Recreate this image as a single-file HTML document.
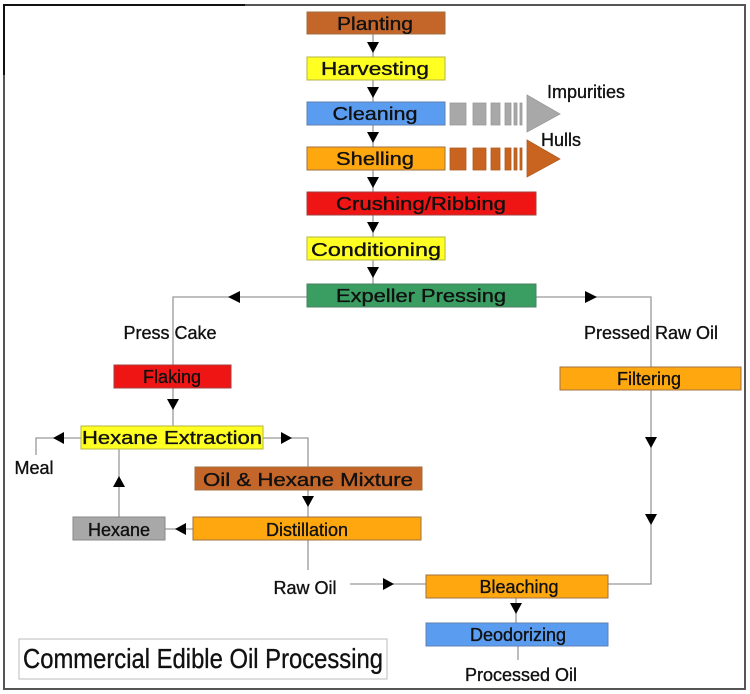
<!DOCTYPE html>
<html><head><meta charset="utf-8"><style>
html,body{margin:0;padding:0;background:#fff;}
svg{display:block;}
text{font-family:"Liberation Sans",sans-serif;fill:#111;}
.l text{stroke:#111;stroke-width:0.35;}
</style></head><body>
<svg width="750" height="694" viewBox="0 0 750 694" xmlns="http://www.w3.org/2000/svg">
<!-- frame -->
<path d="M4 5 H745 V689 H4 Z" fill="none" stroke="#555" stroke-width="2"/>
<path d="M4 75 V5 H245" fill="none" stroke="#111" stroke-width="2"/>

<g stroke="#999" stroke-width="1.3" fill="none">
<line x1="373" y1="34" x2="373" y2="284"/>
<path d="M307 297 H173 V365"/>
<path d="M536 297 H651 V367"/>
<path d="M173 388 V426"/>
<path d="M81 438 H36 V455"/>
<path d="M263 438 H308 V517"/>
<path d="M119 517 V449"/>
<path d="M193 529 H165"/>
<path d="M308 540 V570"/>
<path d="M350 584 H426"/>
<path d="M651 390 V584 H608"/>
<path d="M516 598 V623"/>
<path d="M518 646 V660"/>
</g>

<g fill="#000">
<polygon points="367,42 379,42 373,53"/>
<polygon points="367,87 379,87 373,98"/>
<polygon points="367,132 379,132 373,143"/>
<polygon points="367,177 379,177 373,188"/>
<polygon points="367,222 379,222 373,233"/>
<polygon points="367,267 379,267 373,278"/>
<polygon points="240,291 240,303 228,297"/>
<polygon points="585,291 585,303 597,297"/>
<polygon points="167,399 179,399 173,410"/>
<polygon points="64,432 64,444 53,438"/>
<polygon points="281,432 281,444 292,438"/>
<polygon points="302,496 314,496 308,507"/>
<polygon points="113,487 125,487 119,476"/>
<polygon points="186,523 186,535 175,529"/>
<polygon points="383,578 383,590 394,584"/>
<polygon points="645,437 657,437 651,448"/>
<polygon points="645,514 657,514 651,525"/>
<polygon points="510,603 522,603 516,614"/>
</g>

<g fill="#a8a8a8" stroke="#999" stroke-width="0.8">
<rect x="450" y="103" width="16" height="22"/>
<rect x="473" y="103" width="13" height="22"/>
<rect x="491" y="103" width="9" height="22"/>
<rect x="505" y="103" width="6" height="22"/>
<rect x="514" y="103" width="3" height="22"/>
<rect x="520" y="103" width="2" height="22"/>
<polygon points="527,95 560,114 527,132"/>
</g>
<g fill="#c8641f" stroke="#b05a20" stroke-width="0.8">
<rect x="450" y="148" width="16" height="22"/>
<rect x="473" y="148" width="13" height="22"/>
<rect x="491" y="148" width="9" height="22"/>
<rect x="505" y="148" width="6" height="22"/>
<rect x="514" y="148" width="3" height="22"/>
<rect x="520" y="148" width="2" height="22"/>
<polygon points="527,140 560,159 527,177"/>
</g>

<g stroke="#a07040" stroke-width="1">
<rect x="307" y="12" width="138" height="22" fill="#c4652a"/>
<rect x="307" y="57" width="138" height="23" fill="#ffff22" stroke="#b5b540"/>
<rect x="307" y="102" width="138" height="23" fill="#5a9cf0" stroke="#6080b0"/>
<rect x="307" y="147" width="138" height="23" fill="#ffa70f"/>
<rect x="307" y="192" width="229" height="23" fill="#f01515" stroke="#a04040"/>
<rect x="307" y="237" width="138" height="23" fill="#ffff22" stroke="#b5b540"/>
<rect x="307" y="284" width="229" height="23" fill="#3a9e62" stroke="#4a8060"/>
<rect x="114" y="365" width="117" height="23" fill="#f01515" stroke="#a04040"/>
<rect x="560" y="367" width="181" height="23" fill="#ffa70f"/>
<rect x="81" y="426" width="182" height="23" fill="#ffff22" stroke="#b5b540"/>
<rect x="195" y="467" width="227" height="23" fill="#c4652a"/>
<rect x="193" y="517" width="228" height="23" fill="#ffa70f"/>
<rect x="73" y="517" width="92" height="23" fill="#a8a8a8" stroke="#888"/>
<rect x="426" y="575" width="182" height="23" fill="#ffa70f"/>
<rect x="426" y="623" width="182" height="23" fill="#5a9cf0" stroke="#6080b0"/>
</g>
<rect x="19" y="639" width="368" height="40" fill="#fff" stroke="#bbb" stroke-width="1"/>

<g class="l" font-size="18" text-anchor="middle">
<text x="375" y="30" textLength="76" lengthAdjust="spacingAndGlyphs">Planting</text>
<text x="375" y="75" textLength="108" lengthAdjust="spacingAndGlyphs">Harvesting</text>
<text x="375" y="120" fill="#0a1a50" stroke="#0a1a50" textLength="85" lengthAdjust="spacingAndGlyphs">Cleaning</text>
<text x="375" y="165" textLength="78" lengthAdjust="spacingAndGlyphs">Shelling</text>
<text x="421" y="210" fill="#600" stroke="#600" textLength="170" lengthAdjust="spacingAndGlyphs">Crushing/Ribbing</text>
<text x="376" y="256" textLength="130" lengthAdjust="spacingAndGlyphs">Conditioning</text>
<text x="421" y="302" textLength="170" lengthAdjust="spacingAndGlyphs">Expeller Pressing</text>
<text x="172" y="383" fill="#600" stroke="#600">Flaking</text>
<text x="649" y="385">Filtering</text>
<text x="172" y="444" textLength="180" lengthAdjust="spacingAndGlyphs">Hexane Extraction</text>
<text x="308" y="486" textLength="210" lengthAdjust="spacingAndGlyphs">Oil &amp; Hexane Mixture</text>
<text x="307" y="536">Distillation</text>
<text x="119" y="536">Hexane</text>
<text x="519" y="593">Bleaching</text>
<text x="518" y="641" fill="#0a1a50" stroke="#0a1a50">Deodorizing</text>
<text x="170" y="339">Press Cake</text>
<text x="651" y="339">Pressed Raw Oil</text>
<text x="34" y="474">Meal</text>
<text x="305" y="594">Raw Oil</text>
<text x="521" y="681">Processed Oil</text>
<text x="586" y="98">Impurities</text>
<text x="561" y="146">Hulls</text>
</g>
<text x="23" y="668" font-size="28" stroke="#111" stroke-width="0.35" textLength="360" lengthAdjust="spacingAndGlyphs">Commercial Edible Oil Processing</text>
</svg>
</body></html>
